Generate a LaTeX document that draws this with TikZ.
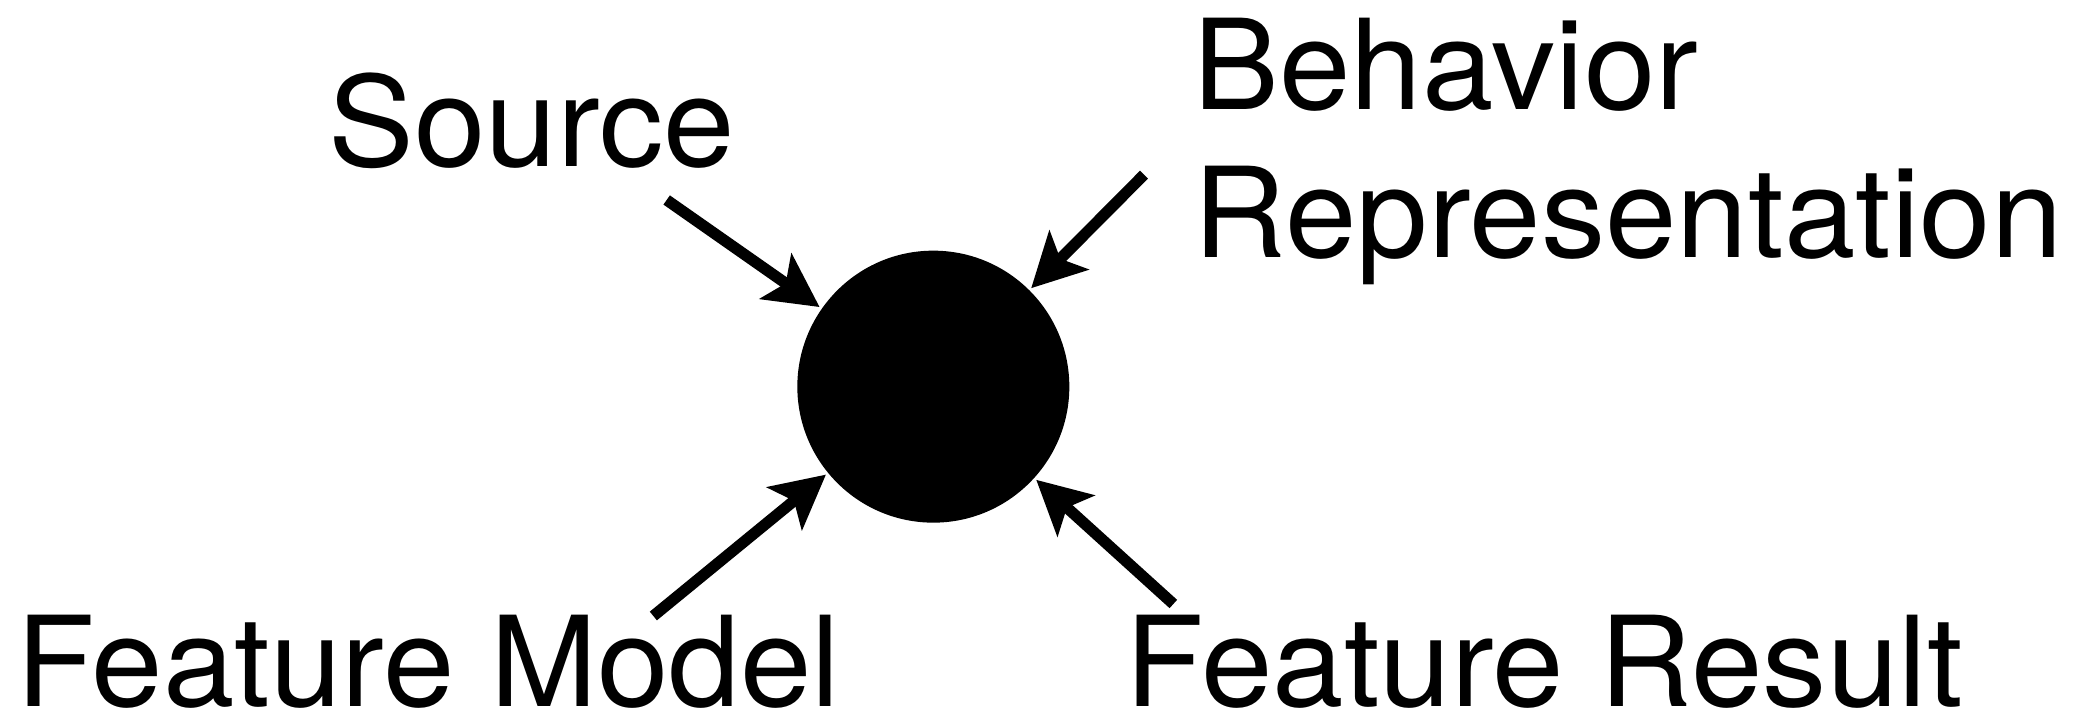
\documentclass[tikz,border=0pt]{standalone}
\usepackage{fontspec}
\setmainfont{TeX Gyre Heros}[FakeStretch=1.025]
\usetikzlibrary{arrows.meta}

\begin{document}
\begin{tikzpicture}[>={Stealth[length=0.8cm,width=0.82cm,inset=0.18cm]}, shorten >=1pt,
	lbl/.style={inner sep=0pt, anchor=base west, font=\fontsize{53.5}{63.2}\selectfont},
	hub/.style={circle, fill=black, minimum size=4.08cm, inner sep=0pt},
	feed/.style={->, line width=4.8pt}]
	\useasboundingbox (0,0) rectangle (31.395,10.8);
	% Nodes {dot, labels}
	\node [hub] 	(dot)	at (14.0,5.0)	{};
	\node [lbl] 	(src)	at (4.92,8.3)	{Source};
	\node [lbl, align=left] 	(beh)	at (17.9,6.94)	{Behavior\\Representation};
	\node [lbl] 	(fm)	at (0.24,0.2)	{Feature Model};
	\node [lbl] 	(fr)	at (16.88,0.2)	{Feature Result};
	
	% Arrow tails
	\coordinate (srcA) at (10.0,7.8);
	\coordinate (behA) at (17.16,8.18);
	\coordinate (fmA)  at (9.8,1.56);
	\coordinate (frA)  at (17.6,1.74);
	
	% Paths {src, beh, fm, fr} -> dot
	\path [feed] 	(srcA) edge (dot)
				(behA) edge (dot)
				(fmA) edge (dot)
				(frA) edge (dot);
\end{tikzpicture}
\end{document}
